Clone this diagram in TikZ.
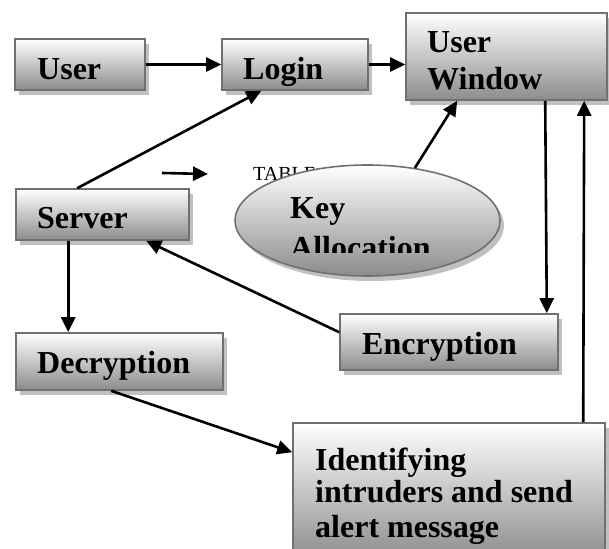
\documentclass[tikz,border=0pt]{standalone}
\usepackage{fontspec}
\setmainfont{Liberation Serif}
\usetikzlibrary{arrows.meta,shadows,shapes.geometric,calc}
\definecolor{boxborder}{RGB}{112,112,112}
\definecolor{boxbottom}{RGB}{140,140,140}
\definecolor{shadowgray}{RGB}{192,192,192}
\begin{document}
\begin{tikzpicture}[x=1pt,y=-1pt,
  box/.style={draw=boxborder, line width=1.6pt, top color=white, bottom color=boxbottom,
    drop shadow={shadow xshift=4pt, shadow yshift=-5pt, fill=shadowgray, opacity=1},
    inner sep=0pt, rectangle},
  oval/.style={box, ellipse},
  lbl/.style={anchor=base west, inner sep=0pt, font=\fontsize{32}{34}\selectfont\bfseries},
  small/.style={anchor=base west, inner sep=0pt, font=\fontsize{20}{22}\selectfont},
  arr/.style={line width=2.6pt, -{Triangle[length=15pt,width=14pt]}}]
\useasboundingbox (0,0) rectangle (609,548);
% boxes
\node[box, minimum width=130pt, minimum height=51pt] (user) at (80,64.5) {};
\node[box, minimum width=146pt, minimum height=51pt] (login) at (295,64.5) {};
\node[box, minimum width=201pt, minimum height=87pt] (uw) at (506.5,56.5) {};
\node[box, minimum width=173pt, minimum height=51pt] (server) at (102.5,214.5) {};
\node[small] (table) at (253,180) {TABLE};
\node[oval, minimum width=265pt, minimum height=111pt] (key) at (367.5,220.5) {};
\node[box, minimum width=218pt, minimum height=56pt] (enc) at (449,342) {};
\node[box, minimum width=207pt, minimum height=57pt] (dec) at (119.5,361.5) {};
\node[box, minimum width=312pt, minimum height=137pt] (ident) at (449,491.5) {};
% labels
\node[lbl] (tuser) at (37,80) {User};
\node[lbl] (tlogin) at (243,80) {Login};
\node[lbl] (tuw1) at (427,53) {User};
\node[lbl] (tuw2) at (427,90) {Window};
\node[lbl] (tserver) at (37,228) {Server};
\node[lbl] (tkey1) at (290,218) {Key};
\begin{scope}
  \clip (250,150) rectangle (500,252);
  \node[lbl] (tkey2) at (290,258) {Allocation};
\end{scope}
\node[lbl] (tenc) at (362,354) {Encryption};
\node[lbl] (tdec) at (37,373) {Decryption};
\node[lbl] (tid1) at (315,470) {Identifying};
\node[lbl] (tid2) at (315,502) {intruders and send};
\node[lbl] (tid3) at (315,537) {alert message};
% connectors
\draw[arr] (user.east) -- (login.west);
\draw[arr] (login.east) -- (login.east -| uw.west);
\draw[arr] ($(server.north west)+(62,0)$) -- ($(login.south west)+(40,0)$);
\coordinate (s1) at (162,173);
\coordinate (s2) at (208,174);
\draw[arr] (s1) -- (s2);
\draw[arr] (key.48) -- ($(uw.south west)+(52,0)$);
\draw[arr] ($(uw.south west)+(140,0)$) -- ($(enc.north east)+(-12,0)$);
\draw[arr] ($(enc.north west)+(0,19)$) -- ($(server.south west)+(131,0)$);
\draw[arr] ($(server.south west)+(53,0)$) -- ($(dec.north west)+(53,0)$);
\draw[arr] ($(dec.south west)+(96,0)$) -- ($(ident.north west)+(0,30)$);
\draw[arr] ($(ident.north west)+(291,0)$) -- ($(uw.south west)+(179,0)$);
\end{tikzpicture}
\end{document}
